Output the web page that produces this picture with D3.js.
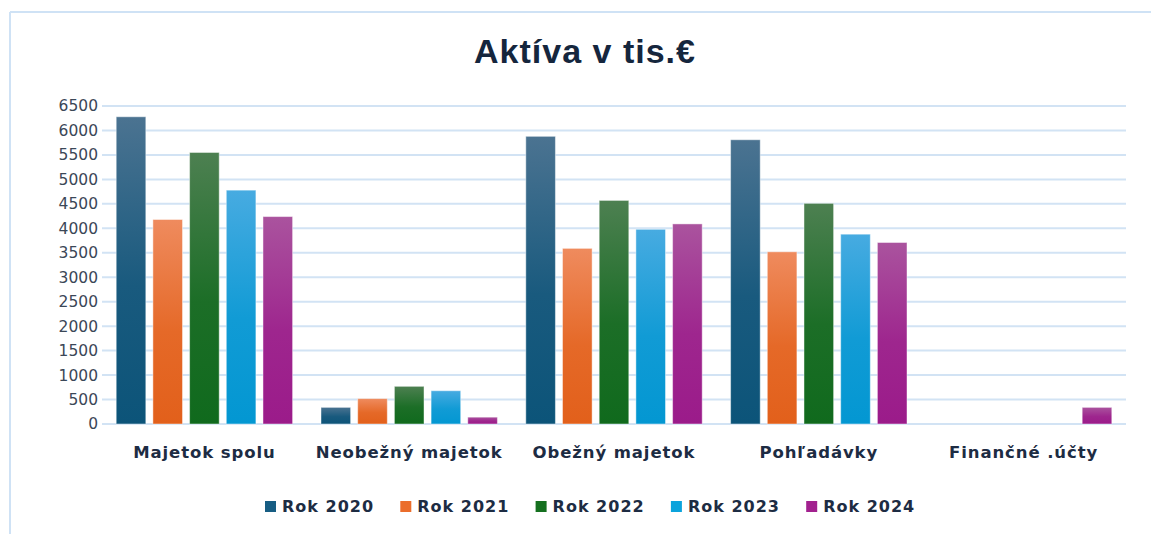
<!DOCTYPE html>
<html lang="sk">
<head>
<meta charset="UTF-8">
<script src="https://d3js.org/d3.v7.min.js"></script>
<style>
  body { margin: 0; background: #fff; }
  svg { display: block; font-family: "DejaVu Sans", sans-serif; }
  .grid line { stroke: #d2e3f4; stroke-width: 2; }
  .tick-label { fill: #3b4757; font-size: 15.5px; }
  .cat-label { fill: #1d2c43; font-size: 16.5px; font-weight: bold; letter-spacing: 0.9px; }
  .legend text { fill: #1d2c43; font-size: 16px; font-weight: bold; letter-spacing: 1px; }
</style>
</head>
<body>
<svg id="chart" width="1151" height="534"></svg>
<script>
// data (tis. €)
const categories = ['Majetok spolu', 'Neobežný majetok', 'Obežný majetok', 'Pohľadávky', 'Finančné .účty']
const years = ['Rok 2020', 'Rok 2021', 'Rok 2022', 'Rok 2023', 'Rok 2024']
const rok2020 = [6280, 340, 5880, 5810, 0]
const rok2021 = [4180, 520, 3590, 3520, 0]
const rok2022 = [5550, 770, 4570, 4510, 0]
const rok2023 = [4780, 680, 3980, 3880, 0]
const rok2024 = [4240, 140, 4090, 3710, 340]
const yTicks = d3.range(0, 6501, 500)

const series = [rok2020, rok2021, rok2022, rok2023, rok2024]
// top / bottom of gradient, legend swatch
const colors = [
  ['#4b7391', '#0c5479', '#175d83'],
  ['#ef8b5e', '#e2601b', '#eb6d2b'],
  ['#4d8051', '#106a1d', '#15701f'],
  ['#47abe1', '#0397d2', '#0ba3dc'],
  ['#aa539e', '#9b1b8a', '#a2218f']
]

const svg = d3.select('#chart')
const margin = { left: 102, right: 25, top: 106, bottom: 110 }
const width = 1151, height = 534
const plotBottom = 424

// frame lines (top and left only are visible)
svg.append('line').attr('x1', 10).attr('x2', width).attr('y1', 12).attr('y2', 12)
  .attr('stroke', '#cfe2f5').attr('stroke-width', 2)
svg.append('line').attr('x1', 10).attr('x2', 10).attr('y1', 12).attr('y2', height)
  .attr('stroke', '#cfe2f5').attr('stroke-width', 2)

svg.append('text')
  .attr('x', 585).attr('y', 63)
  .attr('text-anchor', 'middle')
  .attr('font-family', '"Liberation Sans", Arial, sans-serif')
  .attr('font-weight', 'bold')
  .attr('font-size', 34)
  .attr('letter-spacing', 1)
  .attr('fill', '#15263d')
  .text('Aktíva v tis.€')

const x0 = d3.scaleBand().domain(categories).range([margin.left, 1126]).padding(0)
const x1 = d3.scaleBand().domain(years).range([0, x0.bandwidth()])
  .paddingInner(0.193).paddingOuter(0.387)
const y = d3.scaleLinear().domain([0, 6500]).range([plotBottom, margin.top])

const defs = svg.append('defs')
colors.forEach((c, i) => {
  const g = defs.append('linearGradient').attr('id', 'grad' + i)
    .attr('x1', 0).attr('y1', 0).attr('x2', 0).attr('y2', 1)
  g.append('stop').attr('offset', '0%').attr('stop-color', c[0])
  g.append('stop').attr('offset', '55%').attr('stop-color', d3.interpolateRgb(c[0], c[1])(0.8))
  g.append('stop').attr('offset', '100%').attr('stop-color', c[1])
})

svg.append('g').attr('class', 'grid')
  .selectAll('line').data(yTicks).enter().append('line')
  .attr('x1', margin.left).attr('x2', 1126)
  .attr('y1', d => y(d)).attr('y2', d => y(d))

svg.append('g').selectAll('text').data(yTicks).enter().append('text')
  .attr('class', 'tick-label')
  .attr('x', 98).attr('y', d => y(d)).attr('dy', '0.35em')
  .attr('text-anchor', 'end')
  .text(d => d)

const groups = svg.append('g').selectAll('g').data(categories).enter().append('g')
  .attr('transform', d => `translate(${x0(d)},0)`)

groups.selectAll('rect')
  .data((d, ci) => years.map((yr, si) => ({ yr, si, v: series[si][ci] })))
  .enter().filter(d => d.v > 0).append('rect')
  .attr('x', d => x1(d.yr))
  .attr('width', x1.bandwidth())
  .attr('y', d => y(d.v))
  .attr('height', d => y(0) - y(d.v))
  .attr('fill', d => `url(#grad${d.si})`)
  .attr('stroke', 'rgba(255,255,255,0.45)')
  .attr('stroke-width', 1)

svg.append('g').selectAll('text').data(categories).enter().append('text')
  .attr('class', 'cat-label')
  .attr('x', d => x0(d) + x0.bandwidth() / 2)
  .attr('y', 452).attr('dy', '0.35em')
  .attr('text-anchor', 'middle')
  .text(d => d)

const legend = svg.append('g').attr('class', 'legend')
const lg = legend.selectAll('g').data(years).enter().append('g')
  .attr('transform', (d, i) => `translate(${265 + i * 135.3},506)`)
lg.append('rect').attr('x', 0).attr('y', -5).attr('width', 11).attr('height', 11)
  .attr('fill', (d, i) => colors[i][2])
lg.append('text').attr('x', 17).attr('y', 0).attr('dy', '0.35em').text(d => d)
</script>
</body>
</html>
